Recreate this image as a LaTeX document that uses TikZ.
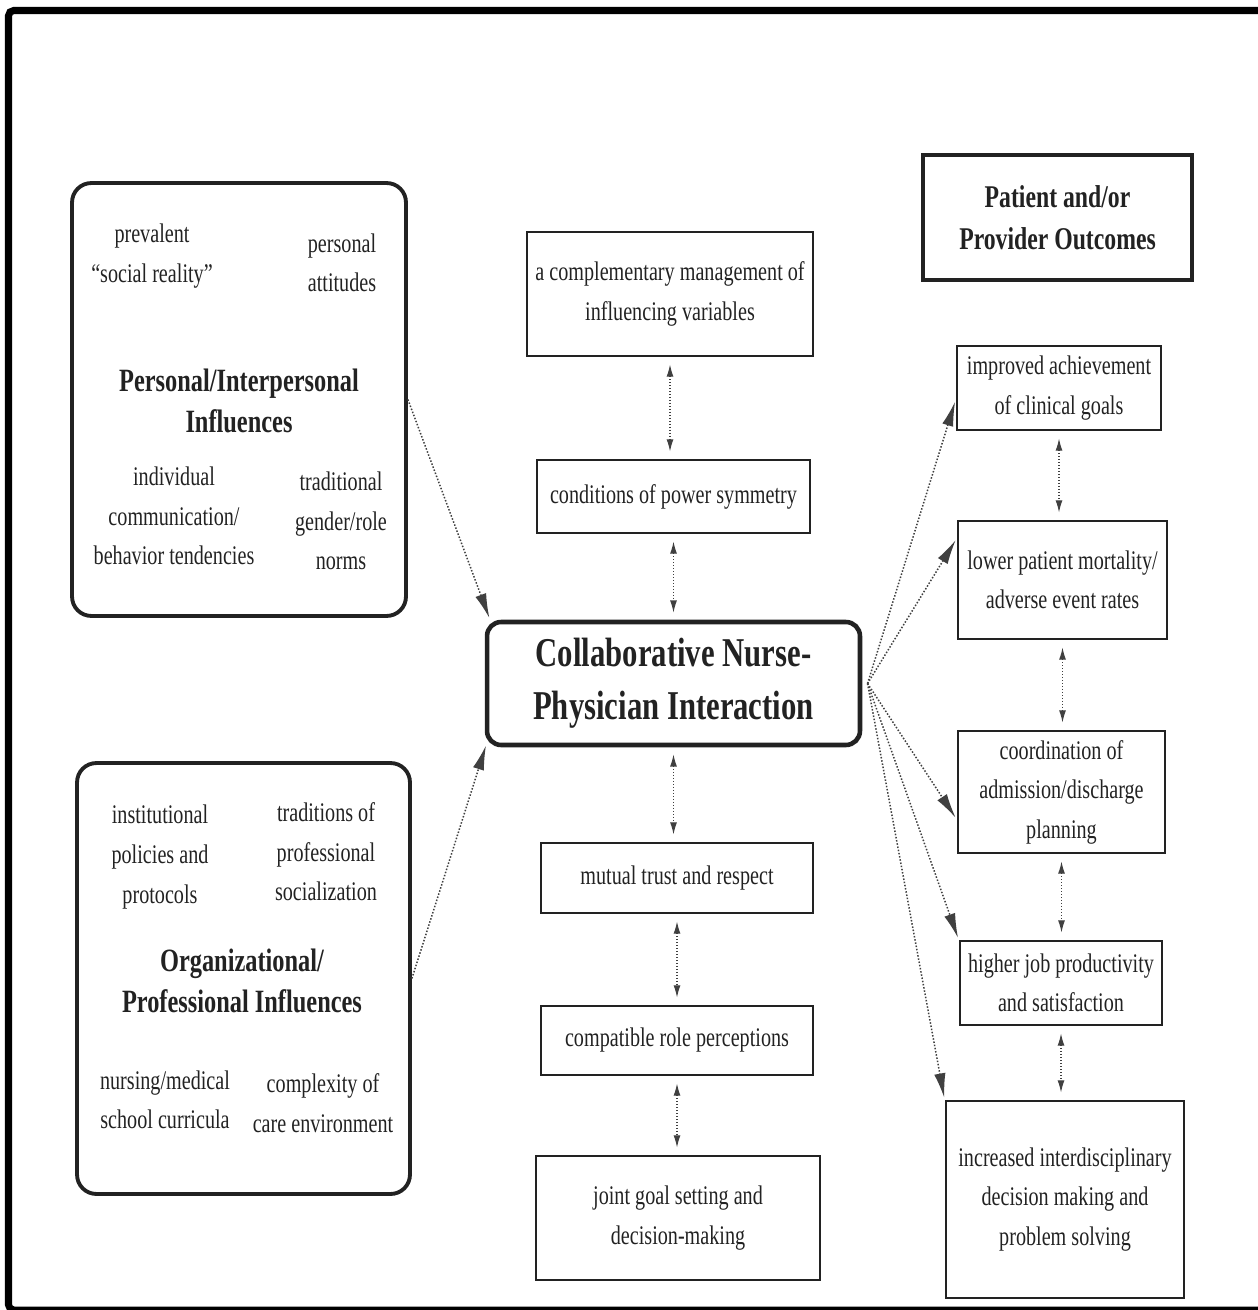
\documentclass[tikz,border=0pt]{standalone}
\usepackage{fontspec}
\setmainfont{Liberation Serif}[FakeStretch=0.75]
\usepackage{xcolor}
\usepackage{tikz}
\usetikzlibrary{arrows.meta}
\definecolor{inkGray}{HTML}{222222}
\definecolor{dotGray}{HTML}{404040}

\begin{document}
\begin{tikzpicture}[x=0.02cm, y=-0.02cm,
    box/.style={draw=inkGray, line width=1.6pt, align=center, inner sep=0pt, text=inkGray,
        font=\fontsize{15.3}{22.5}\selectfont},
    groupbox/.style={draw=inkGray, line width=2.2pt, rounded corners=11pt, inner sep=0pt},
    txt/.style={align=center, inner sep=0pt, text=inkGray, font=\fontsize{15.3}{22.5}\selectfont},
    head/.style={align=center, inner sep=0pt, text=inkGray, font=\bfseries\fontsize{18.5}{23.5}\selectfont},
    twoway/.style={densely dotted, draw=dotGray, line width=0.7pt,
        {Latex[length=7pt,width=4pt]}-{Latex[length=7pt,width=4pt]}, shorten <=4pt, shorten >=4pt},
    oneway/.style={densely dotted, draw=dotGray, line width=0.85pt,
        -{Latex[length=14pt,width=6.5pt]}, shorten >=1pt}]
    \useasboundingbox (0,0) rectangle (1257,1310);
    % frame
    \draw[line width=4pt, rounded corners=3pt] (8.5,10.5) rectangle (1264,1310);

    % left influence groups
    \node[groupbox, minimum width=6.68cm, minimum height=8.66cm] (pers) at (239,399.5) {};
    \node[txt] (pers1) at (152,256) {prevalent\\``social reality''};
    \node[txt] (pers2) at (342,263) {personal\\attitudes};
    \node[head] (persT) at (239,401) {Personal/Interpersonal\\Influences};
    \node[txt] (pers3) at (174,516) {individual\\communication/\\behavior tendencies};
    \node[txt] (pers4) at (341,521) {traditional\\gender/role\\norms};

    \node[groupbox, minimum width=6.66cm, minimum height=8.62cm] (org) at (243.5,978.5) {};
    \node[txt] (org1) at (160,857) {institutional\\policies and\\protocols};
    \node[txt] (org2) at (326,852) {traditions of\\professional\\socialization};
    \node[head] (orgT) at (242,981) {Organizational/\\Professional Influences};
    \node[txt] (org3) at (165,1100) {nursing/medical\\school curricula};
    \node[txt] (org4) at (323,1103) {complexity of\\care environment};

    % centre column
    \node[box, minimum width=5.72cm, minimum height=2.48cm] (mgmt) at (670,294)
        {a complementary management of\\influencing variables};
    \node[box, minimum width=5.46cm, minimum height=1.46cm] (power) at (673.5,496.5)
        {conditions of power symmetry};
    \node[draw=inkGray, line width=2.6pt, rounded corners=8pt, align=center, inner sep=0pt,
        text=inkGray, font=\bfseries\fontsize{23.3}{30}\selectfont,
        minimum width=7.46cm, minimum height=2.46cm] (cnpi) at (673.5,683.5)
        {Collaborative Nurse-\\Physician Interaction};
    \node[box, minimum width=5.44cm, minimum height=1.4cm] (trust) at (677,878)
        {mutual trust and respect};
    \node[box, minimum width=5.44cm, minimum height=1.38cm] (roles) at (677,1040.5)
        {compatible role perceptions};
    \node[box, minimum width=5.68cm, minimum height=2.48cm] (joint) at (678,1218)
        {joint goal setting and\\decision-making};

    % outcomes
    \node[draw=inkGray, line width=2.2pt, minimum width=5.38cm, minimum height=2.5cm,
        align=center, inner sep=0pt, text=inkGray, font=\bfseries\fontsize{18}{24}\selectfont]
        (outc) at (1057.5,217.5) {Patient and/or\\Provider Outcomes};
    \node[box, minimum width=4.08cm, minimum height=1.68cm] (goals) at (1059,388)
        {improved achievement\\of clinical goals};
    \node[box, minimum width=4.18cm, minimum height=2.36cm] (mort) at (1062.5,580)
        {lower patient mortality/\\adverse event rates};
    \node[box, minimum width=4.14cm, minimum height=2.44cm] (coord) at (1061.5,792)
        {coordination of\\admission/discharge\\planning};
    \node[box, minimum width=4.04cm, minimum height=1.68cm] (prod) at (1061,983)
        {higher job productivity\\and satisfaction};
    \node[box, minimum width=4.76cm, minimum height=3.94cm] (dec) at (1065,1199.5)
        {increased interdisciplinary\\decision making and\\problem solving};

    % two-way links
    \draw[twoway] (mgmt.south) -- (mgmt.south |- power.north);
    \draw[twoway] (power.south) -- (power.south |- cnpi.north);
    \draw[twoway] (cnpi.south) -- (cnpi.south |- trust.north);
    \draw[twoway] (trust.south) -- (trust.south |- roles.north);
    \draw[twoway] (roles.south) -- (roles.south |- joint.north);
    \draw[twoway] (goals.south) -- (goals.south |- mort.north);
    \draw[twoway] (mort.south) -- (mort.south |- coord.north);
    \draw[twoway] (coord.south) -- (coord.south |- prod.north);
    \draw[twoway] (prod.south) -- (prod.south |- dec.north);

    % influences in, outcomes out
    \draw[oneway] (pers.east) -- ([xshift=3pt]cnpi.north west);
    \draw[oneway] (org.east) -- ([xshift=1pt,yshift=2pt]cnpi.south west);
    \coordinate (hub) at ([xshift=3pt]cnpi.east);
    \draw[oneway] (hub) -- ([yshift=-6.8pt]goals.west);
    \draw[oneway] (hub) -- ([yshift=-10.8pt]mort.north west);
    \draw[oneway] (hub) -- ([yshift=20pt]coord.south west);
    \draw[oneway] (hub) -- (prod.north west);
    \draw[oneway] (hub) -- (dec.north west);
\end{tikzpicture}
\end{document}
